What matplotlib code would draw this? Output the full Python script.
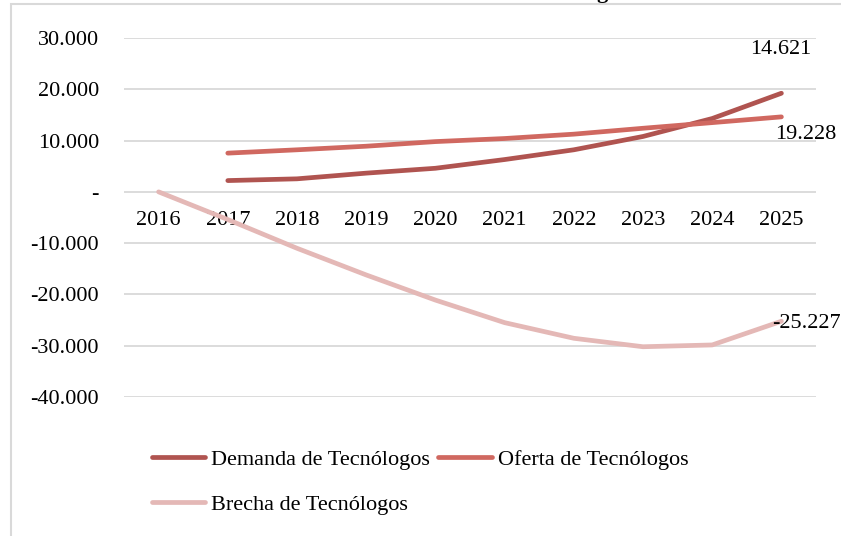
import matplotlib
matplotlib.use("Agg")
import matplotlib.pyplot as plt
from matplotlib.ticker import FuncFormatter
from matplotlib.patches import Rectangle

years = ["2016", "2017", "2018", "2019", "2020", "2021", "2022", "2023", "2024", "2025"]
demanda = [None, 2200, 2540, 3650, 4600, 6300, 8200, 10800, 14300, 19228]
oferta = [None, 7550, 8200, 8900, 9800, 10400, 11250, 12400, 13500, 14621]
brecha = [0, -5400, -11000, -16200, -21100, -25500, -28550, -30200, -29850, -25227]
end_labels = ["14.621", "19.228", "-25.227"]
yticks = [30000, 20000, 10000, 0, -10000, -20000, -30000, -40000]

c_dem = "#B05450"
c_ofe = "#D06860"
c_bre = "#E4B8B6"

plt.rcParams["font.family"] = ["Liberation Serif", "DejaVu Serif"]
FS = 16

W, H = 841, 536
fig = plt.figure(figsize=(W / 100, H / 100), dpi=100)
ax = fig.add_axes([124 / W, 1 - 397 / H, (816 - 124) / W, (397 - 38) / H])

# figure border
fig.patches.append(Rectangle((11 / W, -0.2), 1.2, 1.2 - 4 / H, transform=fig.transFigure,
                             fill=False, edgecolor="#D9D9D9", linewidth=1.5, zorder=0))
# title (cut off at top, as in the reference)
fig.text(628 / W, 1 + 2 / H, "Brecha de Tecnólogos", ha="right", va="baseline",
         fontsize=FS, fontweight="bold", color="#000000")

x = list(range(len(years)))
xd = [i for i, v in zip(x, demanda) if v is not None]
yd = [v for v in demanda if v is not None]
xo = [i for i, v in zip(x, oferta) if v is not None]
yo = [v for v in oferta if v is not None]

kw = dict(linewidth=3.4, solid_capstyle="round", solid_joinstyle="round")
l1, = ax.plot(xd, yd, color=c_dem, label="Demanda de Tecnólogos", zorder=3, **kw)
l2, = ax.plot(xo, yo, color=c_ofe, label="Oferta de Tecnólogos", zorder=3, **kw)
l3, = ax.plot(x, brecha, color=c_bre, label="Brecha de Tecnólogos", zorder=2, **kw)

ax.set_xlim(-0.5, len(years) - 0.5)
ax.set_ylim(-40000, 30000)
ax.set_yticks(yticks)
ax.yaxis.set_major_formatter(FuncFormatter(
    lambda v, p: "-" if v == 0 else f"{int(v):,}".replace(",", ".")))
ax.grid(axis="y", color="#D9D9D9", linewidth=1.3)
ax.set_axisbelow(True)
for s in ax.spines.values():
    s.set_visible(False)
ax.spines["bottom"].set_position(("data", 0))
ax.set_xticks(x)
ax.set_xticklabels(years)
ax.tick_params(axis="x", length=0, pad=14, labelsize=FS)
ax.tick_params(axis="y", length=0, pad=18, labelsize=FS)

# end labels
ax.annotate(end_labels[0], (x[-1], demanda[-1]), xytext=(-1, 44), textcoords="offset pixels",
            ha="center", va="center", fontsize=FS)
ax.annotate(end_labels[1], (x[-1], oferta[-1]), xytext=(24, -18), textcoords="offset pixels",
            ha="center", va="center", fontsize=FS)
ax.annotate(end_labels[2], (x[-1], brecha[-1]), xytext=(-9, -2), textcoords="offset pixels",
            ha="left", va="center", fontsize=FS)

leg = fig.legend([l1, l3, l2], ["Demanda de Tecnólogos", "Brecha de Tecnólogos", "Oferta de Tecnólogos"],
                 ncol=2, loc="upper left", bbox_to_anchor=(152 / W, 1 - 449 / H),
                 frameon=False, fontsize=FS, borderpad=0, borderaxespad=0,
                 handlelength=2.4, handletextpad=0.27, columnspacing=0.36, labelspacing=1.13)

fig.savefig("out.png", dpi=100)
